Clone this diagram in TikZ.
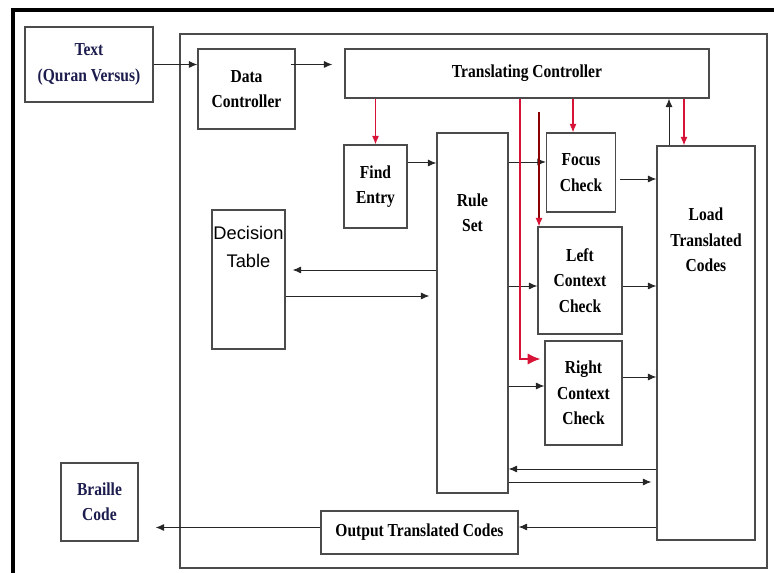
\documentclass[tikz,border=0pt]{standalone}
\usepackage{fontspec}
\setmainfont{Liberation Serif}[FakeStretch=0.85]
\newfontfamily\tablefont{Liberation Sans}
\usepackage{tikz}
\usetikzlibrary{positioning, calc, arrows.meta}
\definecolor{navytext}{RGB}{28,28,78}
\definecolor{boxline}{RGB}{75,75,75}
\definecolor{ctrlred}{RGB}{215,20,55}

\begin{document}
\begin{tikzpicture}[
  font=\fontsize{13}{18}\selectfont\bfseries,
  block/.style={rectangle, draw=boxline, line width=0.9pt, align=center, inner sep=1pt},
  flow/.style={-{Latex[length=6pt,width=5pt]}, line width=0.7pt, black!85},
  ctrl/.style={-{Latex[length=6pt,width=5pt]}, line width=0.8pt, ctrlred},
]
\useasboundingbox (0,0) rectangle (19.35,14.325);

% Frame and system boundary
\draw[line width=2.2pt] (0.325,0) -- (0.325,14.075) -- (19.35,14.075);
\draw[boxline, line width=0.9pt] (4.5,0.125) rectangle (19.175,13.475);

% Outside blocks
\node[block, text=navytext, minimum width=3.2cm, minimum height=1.875cm] (quran) at (2.225,12.7125) {Text\\(Quran Versus)};
\node[block, text=navytext, minimum width=1.925cm, minimum height=1.95cm] (braille) at (2.4875,1.775) {Braille\\Code};

% Controllers
\node[block, minimum width=2.425cm, minimum height=2.0cm] (datactl) at (6.1625,12.1) {Data\\Controller};
\node[block, minimum width=9.1cm, minimum height=1.225cm] (transctl) at (13.175,12.4875) {Translating Controller};

% Rule handling
\node[block, minimum width=1.575cm, minimum height=2.075cm] (findentry) at (9.3875,9.6625) {Find\\Entry};
\node[block, minimum width=1.775cm, minimum height=9.0cm,
  label={[align=center, yshift=2.5cm]center:Rule\\Set}] (ruleset) at (11.8125,6.5) {};
\node[block, minimum width=1.825cm, minimum height=3.475cm,
  label={[align=center, yshift=0.82cm, font=\tablefont\mdseries\fontsize{13}{20}\selectfont]center:Decision\\Table}] (decision) at (6.2125,7.3375) {};

% Checks
\node[block, minimum width=1.725cm, minimum height=1.975cm] (focus) at (14.525,10.0125) {Focus\\Check};
\node[block, minimum width=2.1cm, minimum height=2.675cm] (leftctx) at (14.5,7.3125) {Left\\Context\\Check};
\node[block, minimum width=1.925cm, minimum height=2.6cm] (rightctx) at (14.5875,4.5) {Right\\Context\\Check};

% Output side
\node[block, minimum width=2.45cm, minimum height=9.85cm,
  label={[align=center, yshift=2.575cm]center:Load\\Translated\\Codes}] (loadcodes) at (17.65,5.75) {};
\node[block, minimum width=4.925cm, minimum height=1.075cm] (output) at (10.4875,1.0125) {Output Translated Codes};

% Data flow
\draw[flow] (quran.east) -- (quran.east -| datactl.west);
\draw[flow] ([xshift=-0.125cm]datactl.east |- quran.east) -- ([xshift=-0.3cm]transctl.west |- quran.east);
\draw[flow] ([yshift=0.5875cm]findentry.east) -- ([yshift=0.5875cm]findentry.east -| ruleset.west);
\draw[flow] ([yshift=0.2625cm]focus.west -| ruleset.east) -- ([yshift=0.2625cm]focus.west);
\draw[flow] ([xshift=0.1cm,yshift=-0.1625cm]focus.east) -- ([yshift=-0.1625cm]focus.east -| loadcodes.west);
\draw[flow] ([yshift=-0.1375cm]leftctx.west -| ruleset.east) -- ([yshift=-0.1375cm]leftctx.west);
\draw[flow] ([yshift=-0.1375cm]leftctx.east) -- ([yshift=-0.1375cm]leftctx.east -| loadcodes.west);
\draw[flow] ([yshift=0.175cm]rightctx.west -| ruleset.east) -- ([yshift=0.175cm]rightctx.west);
\draw[flow] ([yshift=0.4cm]rightctx.east) -- ([yshift=0.4cm]rightctx.east -| loadcodes.west);
\draw[flow] ([yshift=0.2375cm]decision.east -| ruleset.west) -- ([xshift=0.175cm,yshift=0.2375cm]decision.east);
\draw[flow] ([yshift=-0.4125cm]decision.east) -- ([xshift=-0.175cm,yshift=-0.4125cm]decision.east -| ruleset.west);
\draw[flow] ([yshift=-3.15cm]loadcodes.west) -- ([yshift=-3.15cm]loadcodes.west -| ruleset.east);
\draw[flow] ([yshift=-3.475cm]loadcodes.west -| ruleset.east) -- ([xshift=-0.125cm,yshift=-3.475cm]loadcodes.west);
\draw[flow] ([yshift=0.1375cm]output.east -| loadcodes.west) -- ([yshift=0.1375cm]output.east);
\draw[flow] ([yshift=0.125cm]output.west) -- ([xshift=0.425cm,yshift=0.125cm]output.west -| braille.east);
\draw[flow] ([xshift=-0.925cm]loadcodes.north) -- ([xshift=-0.925cm]loadcodes.north |- transctl.south);

% Control signals
\draw[ctrl] (findentry.north |- transctl.south) -- (findentry.north);
\draw[ctrl] ([xshift=-0.2cm]focus.north |- transctl.south) -- ([xshift=-0.2cm]focus.north);
\draw[ctrl] ([xshift=-0.55cm]loadcodes.north |- transctl.south) -- ([xshift=-0.55cm]loadcodes.north);
\draw[ctrl, line width=1pt, -{Latex[length=9pt,width=8pt]}] (13.0,0 |- transctl.south) |- ([xshift=-0.1cm,yshift=0.85cm]rightctx.west);
\coordinate (lctop) at (13.475,11.525);
\draw[ctrl, draw=red!55!black, -{Latex[length=6pt,width=5pt,color=ctrlred]}] (lctop) -- (lctop |- leftctx.north);
\end{tikzpicture}
\end{document}
